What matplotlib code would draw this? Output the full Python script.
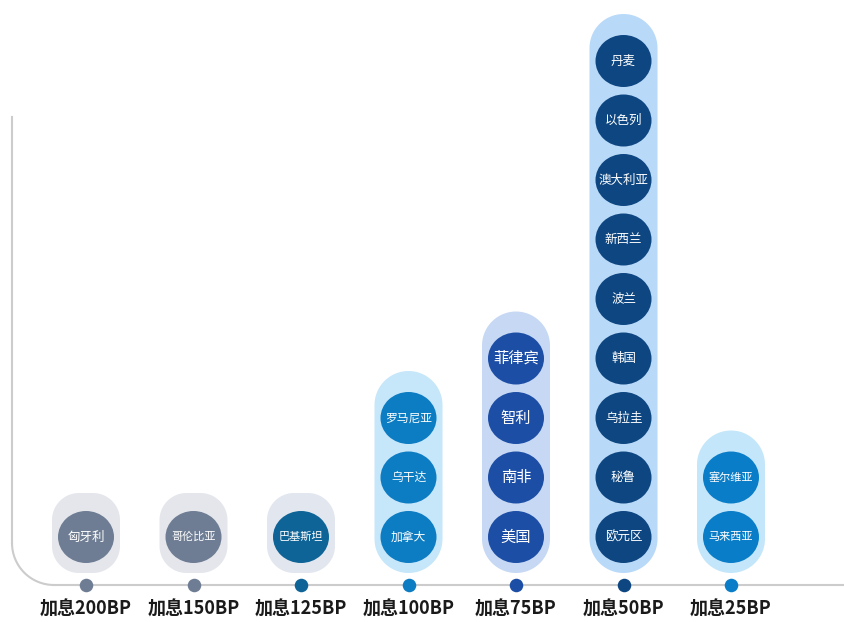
import numpy as np
import matplotlib
matplotlib.use('Agg')
import matplotlib.pyplot as plt
from matplotlib.patches import Ellipse, Polygon, Arc

plt.rcParams['font.family'] = ['Noto Sans CJK SC', 'DejaVu Sans']

# data
categories = ['加息200BP', '加息150BP', '加息125BP', '加息100BP', '加息75BP', '加息50BP', '加息25BP']
hike_200 = ['匈牙利']
hike_150 = ['哥伦比亚']
hike_125 = ['巴基斯坦']
hike_100 = ['加拿大', '乌干达', '罗马尼亚']
hike_75 = ['美国', '南非', '智利', '菲律宾']
hike_50 = ['欧元区', '秘鲁', '乌拉圭', '韩国', '波兰', '新西兰', '澳大利亚', '以色列', '丹麦']
hike_25 = ['马来西亚', '塞尔维亚']
groups = [hike_200, hike_150, hike_125, hike_100, hike_75, hike_50, hike_25]

# style
circle_col = ['#6E7D93', '#6E7D93', '#0F6497', '#0C7CC3', '#1D4EA6', '#0D4681', '#0A7DC8']
pill_col = ['#E4E6EB', '#E4E6EB', '#E2E6EE', '#C6E6FA', '#C6D8F3', '#B9D9F8', '#C4E6FA']
font_sz = [9, 8, 8, 8.5, 11, 9, 8]

px = 1 / 107.5          # one pixel in data units (column spacing = 1)
y0 = 48 * px            # first circle centre above baseline
dy = 59.5 * px          # slot spacing
cw, ch = 56 * px, 52 * px
pw = 68 * px


def rounded_box(x0, y0, w, h, r):
    # rectangle with true circular corners
    pts = []
    corners = [(x0 + w - r, y0 + r, -90), (x0 + w - r, y0 + h - r, 0),
               (x0 + r, y0 + h - r, 90), (x0 + r, y0 + r, 180)]
    for cx, cy, a0 in corners:
        t = np.radians(np.linspace(a0, a0 + 90, 20))
        pts += list(zip(cx + r * np.cos(t), cy + r * np.sin(t)))
    return pts


fig = plt.figure(figsize=(8.44, 6.22), dpi=100)
ax = fig.add_axes([0, 0, 1, 1])
ax.set_xlim(-86 * px, 758 * px)
ax.set_ylim(-37 * px, 585 * px)
ax.set_aspect('equal')
ax.axis('off')

# L-shaped axis with rounded corner
lc = '#CCCCCC'
xl = -74 * px
r = 42 * px
ax.plot([xl, xl], [r, 468 * px], color=lc, lw=1.5, zorder=1)
ax.plot([xl + r, 758 * px], [0, 0], color=lc, lw=1.5, zorder=1)
ax.add_patch(Arc((xl + r, r), 2 * r, 2 * r, theta1=180, theta2=270, color=lc, lw=1.5, zorder=1))

for i, (cat, names) in enumerate(zip(categories, groups)):
    n = len(names)
    bottom = y0 - 36 * px
    top = y0 + (n - 1) * dy + (47 if n > 1 else 44) * px
    rs = pw / 2 if n > 1 else 27 * px
    ax.add_patch(Polygon(rounded_box(i - pw / 2, bottom, pw, top - bottom, rs),
                         closed=True, fc=pill_col[i], ec='none', zorder=2))
    for j, name in enumerate(names):
        yc = y0 + j * dy
        ax.add_patch(Ellipse((i, yc), cw, ch, fc=circle_col[i], ec='none', zorder=3))
        ax.text(i, yc, name, color='white', fontsize=font_sz[i],
                ha='center', va='center', zorder=4)
    ax.scatter([i], [0], s=95, color=circle_col[i], zorder=5, linewidths=0)
    ax.text(i, -24 * px, cat, fontsize=13, fontweight='bold', color='#1A1A1A',
            ha='center', va='center')

fig.savefig('out.png', dpi=100)
